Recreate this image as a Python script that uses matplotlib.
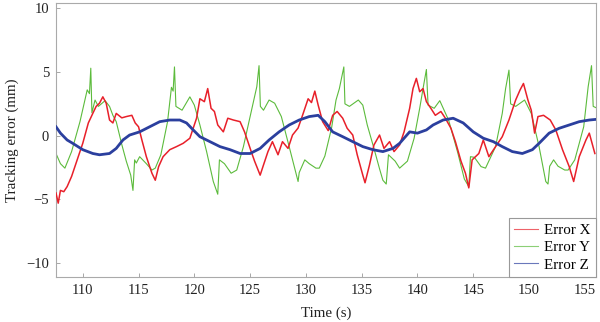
import matplotlib
matplotlib.use("Agg")
import matplotlib.pyplot as plt

# ---- data ----
t_x = [107.6, 107.8, 108.0, 108.3, 108.6, 109.0, 109.5, 110.0, 110.5, 110.9, 111.2, 111.5, 111.8,
       112.1, 112.4, 112.7, 113.0, 113.5, 113.9, 114.4, 114.7, 115.0, 115.3, 115.7, 116.2, 116.5,
       116.8, 117.2, 117.8, 118.4, 119.0, 119.6, 120.2, 120.5, 120.9, 121.2, 121.5, 121.8, 122.1,
       122.6, 123.0, 123.5, 124.1, 124.5, 124.8, 125.1, 125.4, 125.9, 126.2, 126.6, 127.0, 127.5,
       127.9, 128.4, 128.8, 129.3, 129.7, 130.2, 130.5, 130.8, 131.1, 131.5, 132.0, 132.4, 132.8,
       133.3, 133.7, 134.2, 134.6, 135.1, 135.3, 135.7, 136.1, 136.6, 137.0, 137.5, 137.9, 138.4,
       138.8, 139.3, 139.6, 139.9, 140.2, 140.5, 140.8, 141.2, 141.6, 142.1, 142.5, 143.0, 143.4,
       143.9, 144.3, 144.6, 144.9, 145.5, 145.9, 146.4, 147.0, 147.6, 148.2, 148.8, 149.2, 149.5,
       149.9, 150.2, 150.5, 150.8, 151.3, 151.9, 152.4, 153.0, 153.6, 154.0, 154.5, 155.1, 155.4,
       155.9]
err_x = [-4.5, -5.3, -4.3, -4.4, -4.0, -3.2, -1.9, -0.6, 1.0, 1.75, 2.3, 2.55, 3.05,
         2.55, 1.23, 1.0, 1.75, 1.4, 1.5, 1.6, 1.0, 0.7, -0.34, -1.65, -2.95, -3.5,
         -2.43, -1.65, -1.1, -0.86, -0.6, -0.2, 1.37, 2.9, 2.67, 3.7, 2.15, 1.9, 0.84,
         0.3, 1.37, 1.23, 1.1, 0.3, -0.47, -1.25, -2.0, -3.1, -2.3, -1.25, -0.47, -1.5,
         -0.47, -1.0, 0.05, 0.6, 1.6, 2.9, 2.6, 3.5, 2.4, 1.1, 0.4, 1.6, 1.9,
         1.37, 0.58, 0.05, -1.5, -3.1, -3.7, -2.3, -0.73, 0.05, -1.0, -0.47, -1.25, -0.73,
         0.3, 2.15, 3.7, 4.5, 3.45, 3.7, 2.67, 2.15, 1.6, 1.9, 1.37, 0.58, -0.47,
         -2.0, -2.95, -4.1, -1.9, -1.4, -0.34, -1.65, -0.86, -0.08, 1.23, 2.8, 3.6, 4.1,
         2.8, 2.0, 0.2, 1.5, 1.6, 1.23, 0.45, -1.1, -2.43, -3.6, -1.65, -0.34, 0.2,
         -1.4]

t_y = [107.6, 108.0, 108.4, 109.0, 109.75, 110.4, 110.6, 110.72, 110.82, 111.1, 111.4, 112.0,
       112.4, 112.7, 113.0, 113.5, 113.9, 114.3, 114.5, 114.65, 114.8, 115.1, 115.7, 116.2,
       116.5, 117.0, 117.6, 117.95, 118.1, 118.22, 118.35, 118.9, 119.6, 120.0, 120.5, 121.1,
       121.7, 122.1, 122.25, 122.7, 123.3, 123.8, 124.4, 125.0, 125.6, 125.8, 125.92, 126.2,
       126.7, 127.2, 127.8, 128.5, 129.3, 129.4, 129.9, 130.3, 130.9, 131.2, 131.7, 132.3,
       132.7, 133.0, 133.4, 133.5, 133.9, 134.7, 135.1, 135.5, 136.1, 136.6, 136.9, 137.2,
       137.4, 138.0, 138.4, 139.1, 139.7, 140.2, 140.5, 140.8, 140.95, 141.5, 142.0, 142.8,
       143.6, 144.2, 144.6, 144.75, 145.1, 145.7, 146.1, 147.0, 147.6, 147.9, 148.2, 148.35,
       148.8, 149.6, 150.2, 150.9, 151.5, 151.7, 151.85, 152.2, 152.6, 153.2, 153.5, 154.1,
       154.9, 155.3, 155.6, 155.75, 156.0]
err_y = [-1.4, -2.2, -2.55, -1.25, 1.1, 3.6, 3.3, 5.3, 1.8, 2.8, 2.3, 2.75,
         2.3, 1.6, 1.1, -0.7, -2.0, -3.1, -4.3, -1.9, -2.15, -1.65, -2.2, -2.7,
         -2.55, -1.5, 1.1, 3.8, 3.5, 5.4, 2.3, 2.0, 3.05, 2.4, 0.84, -1.25,
         -3.6, -4.6, -1.9, -2.2, -2.95, -2.7, -0.86, 1.5, 3.85, 5.5, 2.3, 2.0,
         2.8, 2.55, 1.5, -0.86, -3.6, -2.9, -1.9, -2.2, -2.55, -2.55, -1.6, 0.6,
         2.8, 3.7, 5.4, 2.5, 2.3, 2.8, 2.4, 0.84, -1.0, -2.6, -3.5, -3.8,
         -1.5, -2.0, -2.55, -2.0, -0.2, 2.15, 3.7, 5.2, 2.4, 2.15, 2.75, 1.2,
         -1.3, -3.4, -4.0, -1.65, -1.7, -2.43, -2.55, -0.86, 1.75, 3.7, 5.15, 2.5,
         2.3, 2.8, 1.75, -0.86, -3.6, -3.8, -2.4, -1.9, -2.4, -2.7, -2.7, -1.9,
         0.7, 3.85, 5.5, 2.3, 2.2]

t_z = [107.6, 108.0, 108.6, 109.1, 110.0, 110.9, 111.5, 112.4, 113.0, 113.6, 114.2, 115.1,
       116.0, 116.9, 117.8, 118.7, 119.3, 119.9, 120.5, 121.4, 122.3, 123.2, 124.1, 125.0,
       125.9, 126.7, 127.6, 128.5, 129.4, 130.3, 131.1, 131.7, 132.4, 133.3, 134.2, 135.1,
       136.0, 136.9, 137.8, 138.4, 139.3, 140.0, 140.8, 141.4, 142.3, 143.2, 144.1, 145.0,
       145.9, 146.8, 147.6, 148.5, 149.4, 150.3, 150.9, 151.8, 152.7, 153.6, 154.5, 155.4,
       156.0]
err_z = [0.7, 0.2, -0.34, -0.6, -1.1, -1.4, -1.5, -1.4, -1.0, -0.34, 0.05, 0.3,
         0.7, 1.1, 1.23, 1.23, 1.0, 0.45, -0.08, -0.47, -0.86, -1.1, -1.4, -1.4,
         -1.0, -0.34, 0.3, 0.84, 1.23, 1.5, 1.6, 1.1, 0.3, -0.08, -0.47, -0.86,
         -1.1, -1.25, -1.0, -0.6, 0.3, 0.2, 0.45, 0.84, 1.23, 1.37, 1.0, 0.3,
         -0.2, -0.47, -0.86, -1.25, -1.4, -1.1, -0.6, 0.2, 0.58, 0.84, 1.1, 1.23,
         1.28]

labels = ["Error X", "Error Y", "Error Z"]
x_ticks = [110, 115, 120, 125, 130, 135, 140, 145, 150, 155]
y_ticks = [-10, -5, 0, 5, 10]

plt.rcParams['font.family'] = ['Liberation Serif', 'DejaVu Serif']

fig = plt.figure(figsize=(6.0, 3.22), dpi=100)
ax = fig.add_axes([0.0933, 0.1398, 0.9, 0.852])

ax.plot(t_x, err_x, color='#e8202a', lw=1.1, label=labels[0], zorder=3)
ax.plot(t_y, err_y, color='#5cbb3c', lw=0.8, label=labels[1], zorder=2)
ax.plot(t_z, err_z, color='#2b3f9e', lw=2.0, label=labels[2], zorder=4)

ax.set_xlim(107.6, 156.0)
ax.set_ylim(-11.1, 10.45)
ax.set_xticks(x_ticks)
ax.set_yticks(y_ticks)
ax.set_yticklabels(["\u221210", "\u22125", "0", "5", "10"])
ax.tick_params(direction='in', length=3, width=0.6, color='#999999',
               labelsize=10.5, labelcolor='#222222', pad=5)
for s in ax.spines.values():
    s.set_color('#aaaaaa')
    s.set_linewidth(0.8)

ax.set_xlabel("Time (s)", fontsize=10.8, color='#222222', labelpad=7)
ax.set_ylabel("Tracking error (mm)", fontsize=10.8, color='#222222', labelpad=5)

leg = ax.legend(loc='lower right', borderaxespad=0, fancybox=False, framealpha=1,
                edgecolor='#999999', fontsize=10.8, handlelength=1.6, handletextpad=0.4,
                labelspacing=0.25, borderpad=0.35)
leg.get_frame().set_linewidth(0.8)
for line in leg.get_lines():
    line.set_linewidth(0.8)
    line.set_alpha(0.7)

fig.savefig("out.png", dpi=100)
